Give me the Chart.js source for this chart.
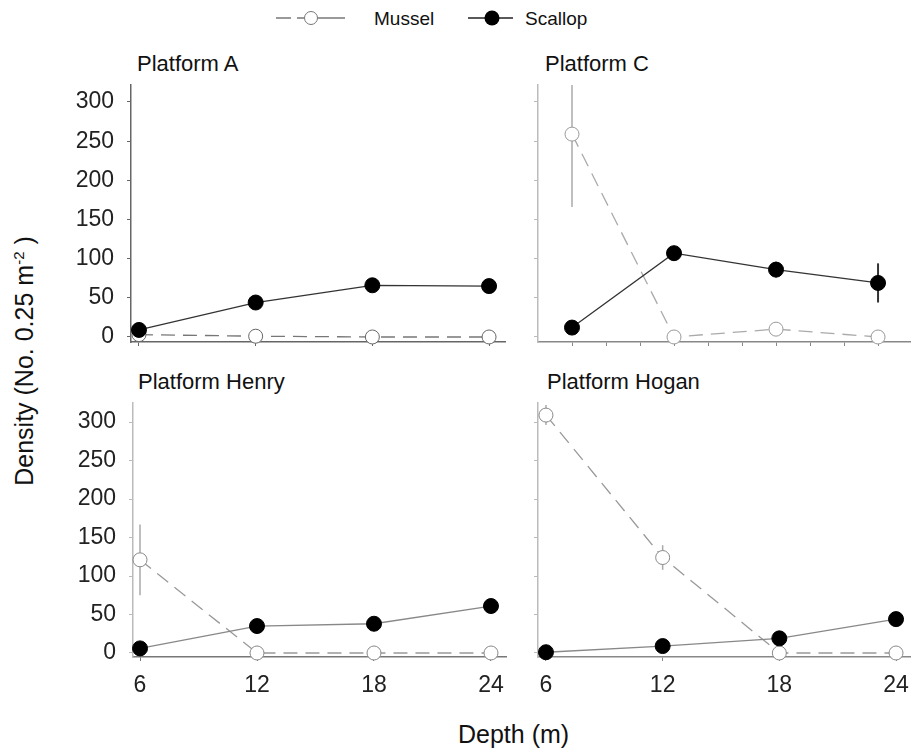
<!DOCTYPE html>
<html>
<head>
<meta charset="utf-8">
<script src="https://cdn.jsdelivr.net/npm/chart.js@4/dist/chart.umd.min.js"></script>
<style>
  html, body { margin: 0; padding: 0; background: #fff; }
  body { width: 911px; height: 753px; position: relative; overflow: hidden;
         font-family: 'Liberation Sans', Arial, sans-serif; color: #111; }
  canvas { position: absolute; }
  .txt { position: absolute; white-space: nowrap; line-height: 1; }
  .panel-title { font-size: 22px; }
  .legend-text { font-size: 19px; }
  #ytitle { position: absolute; width: 300px; height: 30px; line-height: 30px; text-align: center;
            font-size: 25px; transform: rotate(-90deg); white-space: nowrap; }
  #ytitle sup { font-size: 15px; line-height: 0; vertical-align: 9px; }
</style>
</head>
<body>

<svg width="911" height="40" style="position:absolute;left:0;top:0">
  <line x1="276" y1="18" x2="291" y2="18" stroke="#777" stroke-width="1.5"/>
  <line x1="297" y1="18" x2="304" y2="18" stroke="#777" stroke-width="1.5"/>
  <line x1="318" y1="18" x2="345" y2="18" stroke="#777" stroke-width="1.5"/>
  <circle cx="311" cy="18" r="6.5" fill="#fff" stroke="#777" stroke-width="1"/>
  <line x1="468" y1="18" x2="513" y2="18" stroke="#222" stroke-width="1.5"/>
  <circle cx="492" cy="18" r="7.5" fill="#000"/>
</svg>
<div class="txt legend-text" style="left:374px;top:9px">Mussel</div>
<div class="txt legend-text" style="left:525px;top:9px">Scallop</div>

<div class="txt panel-title" style="left:137px;top:53px">Platform A</div>
<div class="txt panel-title" style="left:545px;top:53px">Platform C</div>
<div class="txt panel-title" style="left:138px;top:371px">Platform Henry</div>
<div class="txt panel-title" style="left:547px;top:371px">Platform Hogan</div>

<div id="ytitle" style="left:-126px;top:346px">Density (No. 0.25 m<sup>-2</sup> )</div>
<div class="txt" style="left:458px;top:722px;font-size:25px">Depth (m)</div>

<canvas id="pA" width="450" height="272" style="left:60px;top:80px"></canvas>
<canvas id="pC" width="401" height="272" style="left:510px;top:80px"></canvas>
<canvas id="pHenry" width="450" height="310" style="left:60px;top:395px"></canvas>
<canvas id="pHogan" width="401" height="310" style="left:510px;top:395px"></canvas>

<script>
// Depths sampled (m)
const depths = [6, 12, 18, 24];
const yTicks = [0, 50, 100, 150, 200, 250, 300];
const xTicksC = [6, 8, 10, 12, 14, 16, 18, 20, 22, 24];

// Platform A
const musselA = [3, 1, 0, 0];
const scallopA = [9, 44, 66, 65];

// Platform C
const musselC = [259, 0, 10, 0];
const musselErrC = [93, 0, 0, 0];
const scallopC = [12, 107, 86, 69];
const scallopErrC = [0, 3, 10, 25];

// Platform Henry
const musselHenry = [121, 0, 0, 0];
const musselErrHenry = [46, 0, 0, 0];
const scallopHenry = [6, 35, 38, 61];

// Platform Hogan
const musselHogan = [309, 124, 0, 0];
const musselErrHogan = [13, 16, 0, 0];
const scallopHogan = [1, 9, 19, 44];

Chart.defaults.font.family = "'Liberation Sans', Arial, sans-serif";
Chart.defaults.color = '#222';

/**
 * Vertical error bars drawn behind the markers
 */
const errorBars = {
    id: 'errorBars',
    beforeDatasetsDraw(chart) {
        const { ctx, chartArea, scales } = chart;
        ctx.save();
        ctx.beginPath();
        ctx.rect(chartArea.left, chartArea.top, chartArea.width, chartArea.height);
        ctx.clip();
        chart.data.datasets.forEach(ds => {
            if (!ds.errors) return;
            ctx.strokeStyle = ds.errorColor;
            ctx.lineWidth = ds.errorWidth;
            ds.data.forEach((pt, i) => {
                const e = ds.errors[i];
                if (!e) return;
                const px = scales.x.getPixelForValue(pt.x);
                ctx.beginPath();
                ctx.moveTo(px, scales.y.getPixelForValue(pt.y - e));
                ctx.lineTo(px, scales.y.getPixelForValue(pt.y + e));
                ctx.stroke();
            });
        });
        ctx.restore();
    }
};

function toPoints(values) {
    return depths.map((d, i) => ({ x: d, y: values[i] }));
}

/**
 * Build one panel
 */
function makePanel(id, opt) {
    const ctx = document.getElementById(id).getContext('2d');
    return new Chart(ctx, {
        type: 'scatter',
        data: {
            datasets: [
                {
                    label: 'Scallop',
                    data: toPoints(opt.scallop),
                    errors: opt.scallopErr,
                    errorColor: '#333',
                    errorWidth: 2,
                    showLine: true,
                    borderColor: opt.scallopLine,
                    borderWidth: 1.3,
                    pointRadius: 7.5,
                    pointBackgroundColor: '#000',
                    pointBorderColor: '#000',
                    pointBorderWidth: 1,
                    clip: false
                },
                {
                    label: 'Mussel',
                    data: toPoints(opt.mussel),
                    errors: opt.musselErr,
                    errorColor: '#aaa',
                    errorWidth: 1.5,
                    showLine: true,
                    borderColor: opt.musselLine,
                    borderWidth: 1.3,
                    borderDash: [14, 8],
                    pointRadius: 7,
                    pointBackgroundColor: '#fff',
                    pointBorderColor: opt.musselMarker,
                    pointBorderWidth: 1,
                    clip: false
                }
            ]
        },
        options: {
            responsive: false,
            animation: false,
            events: [],
            layout: { autoPadding: false, padding: { top: opt.padTop, right: opt.padRight, left: 0, bottom: 0 } },
            plugins: { legend: { display: false }, tooltip: { enabled: false } },
            scales: {
                x: {
                    type: 'linear',
                    min: opt.xMin,
                    max: opt.xMax,
                    afterBuildTicks: s => { s.ticks = opt.xTicks.map(v => ({ value: v })); },
                    afterFit: s => { s.height = opt.xHeight; s.paddingLeft = 0; s.paddingRight = 0; },
                    grid: { display: true, drawOnChartArea: false, drawTicks: true, tickLength: 4, color: opt.xAxisColor },
                    border: { display: true, color: opt.xAxisColor, width: 1.5 },
                    ticks: { display: opt.xLabels, padding: 11, font: { size: 23 }, color: '#222', maxRotation: 0, autoSkip: false }
                },
                y: {
                    min: opt.yMin,
                    max: opt.yMax,
                    afterBuildTicks: s => { s.ticks = yTicks.map(v => ({ value: v })); },
                    afterFit: s => { s.width = opt.yWidth; s.paddingTop = 0; s.paddingBottom = 0; },
                    grid: { display: true, drawOnChartArea: false, drawTicks: true, tickLength: 4, color: opt.yAxisColor },
                    border: { display: true, color: opt.yAxisColor, width: 1.5 },
                    ticks: { display: opt.yLabels, padding: 13, font: { size: 23 }, color: '#222' }
                }
            }
        },
        plugins: [errorBars]
    });
}

makePanel('pA', {
    mussel: musselA, musselErr: null, scallop: scallopA, scallopErr: null,
    scallopLine: '#333', musselLine: '#777', musselMarker: '#666',
    xMin: 5.59, xMax: 24.82, xTicks: depths, xLabels: false, xHeight: 10,
    yMin: -6.4, yMax: 321.7, yLabels: true, yWidth: 71,
    padTop: 5, padRight: 5, xAxisColor: '#666', yAxisColor: '#666'
});

makePanel('pC', {
    mussel: musselC, musselErr: musselErrC, scallop: scallopC, scallopErr: scallopErrC,
    scallopLine: '#333', musselLine: '#aaa', musselMarker: '#999',
    xMin: 4, xMax: 25.88, xTicks: xTicksC, xLabels: false, xHeight: 10,
    yMin: -6.4, yMax: 321.7, yLabels: false, yWidth: 28,
    padTop: 5, padRight: 1, xAxisColor: '#888', yAxisColor: '#bbb'
});

makePanel('pHenry', {
    mussel: musselHenry, musselErr: musselErrHenry, scallop: scallopHenry, scallopErr: null,
    scallopLine: '#888', musselLine: '#999', musselMarker: '#888',
    xMin: 5.64, xMax: 24.77, xTicks: depths, xLabels: true, xHeight: 48,
    yMin: -5.2, yMax: 324.7, yLabels: true, yWidth: 73,
    padTop: 8, padRight: 4, xAxisColor: '#777', yAxisColor: '#bbb'
});

makePanel('pHogan', {
    mussel: musselHogan, musselErr: musselErrHogan, scallop: scallopHogan, scallopErr: null,
    scallopLine: '#888', musselLine: '#999', musselMarker: '#888',
    xMin: 5.59, xMax: 24.77, xTicks: depths, xLabels: true, xHeight: 48,
    yMin: -5.2, yMax: 324.7, yLabels: false, yWidth: 28,
    padTop: 8, padRight: 0, xAxisColor: '#888', yAxisColor: '#bbb'
});
</script>
</body>
</html>
